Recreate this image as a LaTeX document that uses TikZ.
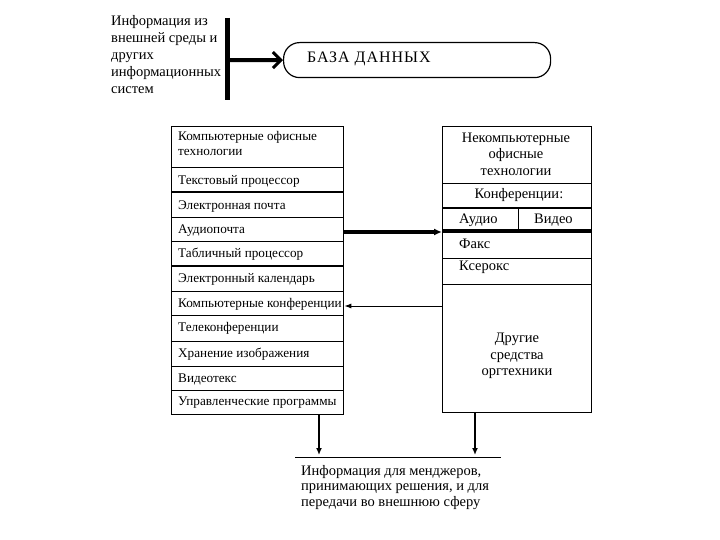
\documentclass[tikz,border=0pt]{standalone}
\usepackage{fontspec}
\setmainfont{Liberation Serif}
\usetikzlibrary{arrows.meta}
\begin{document}
\begin{tikzpicture}[x=1pt,y=-1pt,
  box/.style={draw, line width=1.3pt, anchor=north west, inner sep=0pt},
  row/.style={anchor=west, inner sep=0pt, font=\fontsize{13.2}{15}\selectfont},
  rrow/.style={anchor=west, inner sep=0pt, font=\fontsize{14.5}{16}\selectfont},
  ctr/.style={align=center, inner sep=0pt, font=\fontsize{14.5}{16.5}\selectfont},
  div/.style={line width=0.8pt},
  thickdiv/.style={line width=2pt},
  conn/.style={line width=1pt, -{Latex[length=7pt,width=5pt]}}
]
\useasboundingbox (0,0) rectangle (720,540);

% source text and bar
\node[anchor=north west, align=left, inner sep=0pt, font=\fontsize{14.5}{17}\selectfont] (src) at (111,15.5)
  {Информация из\\внешней среды и\\других\\информационных\\систем};
\coordinate (bartop) at (227.5,18);
\coordinate (barbot) at (227.5,100);
\draw[line width=4.5pt] (bartop) -- (barbot);
\coordinate (barmid) at (227.5,60);

% database
\node[draw, line width=1.2pt, rounded corners=16pt, minimum width=267pt, minimum height=35pt, anchor=north west, inner sep=0pt] (db) at (283,42) {};
\node[anchor=west, inner sep=0pt, font=\fontsize{16}{18}\selectfont\addfontfeatures{LetterSpace=6}] (dbtxt) at (307,59) {БАЗА ДАННЫХ};
\draw[line width=4pt, -{Straight Barb[length=8pt,width=16pt,line width=3pt]}] (barmid) -- (db.west);

% left box
\node[box, minimum width=172pt, minimum height=288pt] (lbox) at (171,126) {};
\node[anchor=north west, align=left, inner sep=0pt, font=\fontsize{13.2}{15}\selectfont] (l0) at (178,131) {Компьютерные офисные\\технологии};
\node[row] (l1) at (178,181.5) {Текстовый процессор};
\node[row] (l2) at (178,206.5) {Электронная почта};
\node[row] (l3) at (178,230.5) {Аудиопочта};
\node[row] (l4) at (178,254.5) {Табличный процессор};
\node[row] (l5) at (178,279.5) {Электронный календарь};
\node[row] (l6) at (178,304.5) {Компьютерные конференции};
\node[row] (l7) at (178,328.5) {Телеконференции};
\node[row] (l8) at (178,354.5) {Хранение изображения};
\node[row] (l9) at (178,379.5) {Видеотекс};
\node[row] (l10) at (178,402.5) {Управленческие программы};
\foreach \yy in {167,217,241,291,315,341,366,390}
  \draw[div] (171,\yy) -- (343,\yy);
\foreach \yy in {192,266}
  \draw[thickdiv] (171,\yy) -- (343,\yy);

% right box
\node[box, minimum width=149pt, minimum height=286pt] (rbox) at (442,126) {};
\node[ctr] (r0) at (516,154) {Некомпьютерные\\офисные\\технологии};
\node[ctr] (r1) at (519,195) {Конференции:};
\node[rrow] (r2) at (459,220) {Аудио};
\node[rrow] (r3) at (534,220) {Видео};
\node[rrow] (r4) at (459,244) {Факс};
\node[rrow] (r5) at (459,267) {Ксерокс};
\node[ctr] (r6) at (517,356) {Другие\\средства\\оргтехники};
\foreach \yy in {183,258,284}
  \draw[div] (442,\yy) -- (591,\yy);
\draw[thickdiv] (442,208) -- (591,208);
\draw[line width=3.5pt] (442,231) -- (591,231);
\draw[div] (518,208) -- (518,231);

% connectors between boxes
\coordinate (a1) at (0,232);
\coordinate (a2) at (0,306);
\draw[line width=3pt, -{Latex[length=8pt,width=7pt]}] (lbox.east |- a1) -- (rbox.west |- a1);
\draw[conn] (rbox.west |- a2) -- (lbox.east |- a2);

% output
\coordinate (ol) at (295,457);
\coordinate (or) at (501,457);
\draw[line width=1pt] (ol) -- (or);
\coordinate (d1) at (319,455);
\coordinate (d2) at (475,455);
\draw[line width=1.5pt, -{Latex[length=7pt,width=6pt]}] (lbox.south -| d1) -- (d1);
\draw[line width=1.5pt, -{Latex[length=7pt,width=6pt]}] (rbox.south -| d2) -- (d2);
\node[anchor=north west, align=left, inner sep=0pt, font=\fontsize{14.5}{15.5}\selectfont] (out) at (301,465)
  {Информация для менджеров,\\принимающих решения, и для\\передачи во внешнюю сферу};
\end{tikzpicture}
\end{document}
